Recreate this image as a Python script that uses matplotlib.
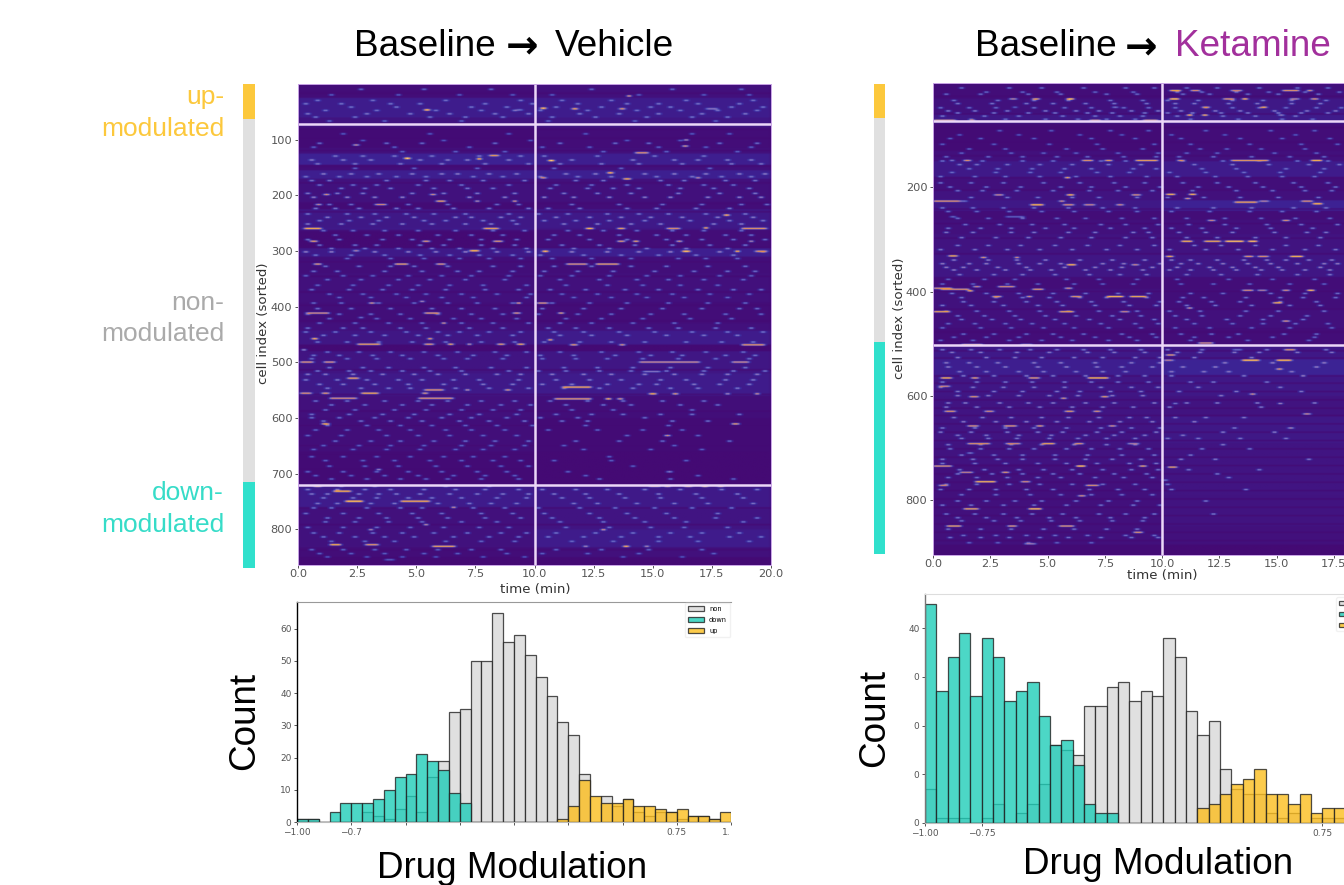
import numpy as np
import matplotlib
matplotlib.use("Agg")
import matplotlib.pyplot as plt
from matplotlib.colors import LinearSegmentedColormap
from matplotlib.patches import Rectangle

W, H = 1344, 885
SANS = ['Liberation Sans', 'DejaVu Sans']

# ---------- histogram data ----------
v_non = [1,1,0,0,0,0,3,2,1,4,8,3,14,19,34,35,50,50,65,56,58,52,45,39,31,27,15,0,8,5,7,3,2,3,3,1,2,2,1,0]
v_down = [1,1,0,3,6,6,6,7,10,14,15,21,19,16,9,6,0,0,0,0,0,0,0,0,0,0,0,0,0,0,0,0,0,0,0,0,0,0,0,0]
v_up = [0,0,0,0,0,0,0,0,0,0,0,0,0,0,0,0,0,0,0,0,0,0,0,0,1,5,13,8,6,6,7,5,5,4,3,4,2,2,1,3]
k_non = [7,1,1,1,0,1,4,0,2,4,8,16,15,14,24,24,28,29,25,27,26,38,34,23,18,21,11,7,6,6,2,1,2,0,1,1,1]
k_down = [45,27,34,39,26,38,34,25,27,29,22,16,17,12,4,2,2,0,0,0,0,0,0,0,0,0,0,0,0,0,0,0,0,0,0,0,0]
k_up = [0,0,0,0,0,0,0,0,0,0,0,0,0,0,0,0,0,0,0,0,0,0,0,0,3,4,6,8,9,11,6,6,4,6,2,3,3]

# ---------- heatmap data: (first cell, level before t=10, level after t=10) ----------
v_bands = [(0,.02,.04),(25,.12,.12),(60,.06,.08),(78,.01,.02),(115,.04,.04),(125,.15,.13),(145,.02,.04),
           (155,.13,.14),(170,.05,.04),(215,.01,.02),(225,.09,.1),(258,.1,.08),(265,.0,.02),(295,.1,.13),
           (310,.03,.03),(340,.04,.04),(392,.03,.02),(430,.04,.04),(443,.08,.11),(468,.0,.0),(480,.07,.08),
           (520,.1,.11),(560,.04,.03),(600,.03,.01),(660,.01,.0),(722,.11,.1),(760,.04,.07),(800,.05,.11),
           (832,.02,.04),(850,.0,.0)]
k_bands = [(0,.02,.04),(30,.05,.09),(60,.09,.11),(78,.01,.02),(130,.04,.04),(150,.1,.11),(180,.04,.03),
           (205,.06,.04),(225,.09,.15),(245,.02,.02),(262,.04,.04),(290,.06,.06),(330,.08,.08),(375,.02,.02),
           (395,.05,.03),(435,.04,.04),(470,.02,.02),(503,.1,.09),(530,.13,.16),(560,.08,.09),(600,.07,.06),
           (640,.07,.09),(690,.06,.07),(730,.04,.07),(790,.04,.06),(850,.04,.04),(885,.01,.0)]
v_dark = [15,80,96,118,146,176,212,228,262,292,318,344,372,396,424,470,476,512,556,586,612,648,664,690,712,760,790,835,852]
k_dark = [24,58,84,112,138,180,204,240,268,296,326,372,398,432,476,512,526,560,574,590,606,622,636,652,668,684,700,716,
          732,748,764,780,796,812,828,844,860,876]

# strong transients: (cell, t start, t end, level)
v_hot = [(132,4.55,4.75,.95),(133,7.65,7.8,.97),(127,8.1,8.5,.74),(258,.3,1.05,.8),(209,5.9,6.3,.75),(209,7.5,7.7,.74),
 (209,9.15,9.3,.85),(197,5.6,5.9,.7),(197,1.1,1.4,.72),(258,7.9,8.5,.76),(281,.5,.9,.75),(281,5.3,5.6,.72),(281,8.3,8.7,.72),
 (322,.7,1.05,.72),(322,4.15,4.7,.74),(322,5.85,6.3,.7),(298,2.4,2.6,.6),(298,7.3,7.7,.85),(392,3,3.3,.72),(389,5.2,5.4,.72),
 (392,9.3,9.45,.9),(410,.35,1.4,.68),(410,5.4,6,.72),(410,9.1,9.45,.7),(428,6.1,6.3,.85),(418,2.6,2.8,.55),(45,5.4,5.6,.9),
 (45,9.3,9.5,.45),(108,2.35,2.6,.68),(215,3.3,3.8,.68),(215,.8,1.05,.66),
 (456,.65,.85,.85),(456,5.5,5.65,.9),(466,2.5,3.5,.75),(466,5.4,5.8,.72),(466,6.4,6.6,.8),(466,7.2,7.35,.75),(466,8.45,8.8,.74),
 (466,9.3,9.6,.78),(476,.2,.4,.7),(498,.15,.7,.7),(498,1.1,1.6,.68),(527,2.1,2.6,.74),(554,.15,.6,.7),(554,1.05,1.35,.72),
 (554,2.7,3.45,.78),(554,5.3,5.5,.72),(548,5.4,6.2,.7),(548,7.1,7.25,.75),(548,8.8,9,.72),(563,1.4,2.55,.68),(563,5.15,6.65,.7),
 (609,1.05,1.4,.8),(691,3.4,3.55,.7),(721,.7,1,.78),(721,1.75,1.95,.7),(721,3.2,3.4,.72),(721,6.2,6.35,.7),(721,8.05,8.2,.66),
 (730,1.55,2.3,.8),(748,2.05,2.75,.88),(748,4.4,5.6,.78),(759,6.5,6.65,.8),(790,5.35,5.55,.78),(799,3.05,3.2,.75),(826,1.4,1.85,.8),
 (826,2.9,3.45,.72),(829,5.7,6.7,.76),(853,3.7,4.15,.38),
 (136,10.65,10.9,.95),(20,13.95,14.1,.88),(42,10.3,10.55,.9),(43,11.6,11.85,.8),(43,17.3,17.8,.5),(43,13.6,13.9,.74),(99,16.35,16.55,.75),
 (110,16.3,16.5,.72),(169,13.75,14.15,.8),(158,13.1,13.4,.85),(167,16.85,17.05,.75),(167,10.3,10.55,.7),(122,14.3,14.85,.7),
 (234,18,18.3,.86),(258,12.2,12.5,.84),(257,17.2,17.3,.97),(258,13.5,13.85,.76),(258,15.6,16.2,.7),(258,18.8,19.85,.72),(281,13.5,13.9,.72),
 (281,14.2,14.45,.8),(281,16,16.3,.7),(281,19.1,19.3,.74),(299,10.4,10.6,.9),(299,16.3,16.65,.9),(299,18.55,18.7,.97),(299,19.4,19.85,.72),
 (322,11.35,12.3,.7),(322,12.6,13.6,.74),(392,10.15,10.65,.7),(410,11,11.25,.76),(458,10.65,10.8,.9),(467,11.55,11.9,.72),(467,13.6,13.9,.72),
 (467,18.8,19.75,.72),(498,14.45,17,.64),(498,18.4,19.1,.64),(515,14.6,15.4,.48),(543,11.2,12.45,.76),(555,14.9,15.2,.8),(555,15.9,16.1,.74),
 (555,18.1,18.25,.7),(555,19.4,19.55,.82),(564,10.9,12.45,.72),(564,13.05,13.25,.84),(564,13.55,13.8,.72),(609,18.4,18.7,.74),(630,15.5,15.8,.7),
 (721,14.9,15.4,.66),(721,15.5,15.8,.8),(721,16.4,16.7,.8),(721,17.1,17.4,.95),(721,17.8,18,.8),(799,12.85,13,.8),(829,12.1,12.3,.68),
 (829,13.8,14,.85),(829,14.7,14.9,.7)]
k_hot = [(29,5.9,6.2,.9),(29,4.4,4.7,.76),(29,3.4,3.7,.62),(45,3.5,3.7,.5),(45,7.9,8.1,.5),(70,0,1,.72),(70,1.6,1.9,.7),(70,6.9,7.4,.7),(70,9.2,9.9,.72),
 (147,1.4,1.7,.72),(147,6.5,7,.72),(147,7.5,7.9,.76),(147,8.9,9.9,.76),(147,.8,.95,.6),(180,5.8,6,.8),(213,2.7,3.1,.66),(213,5.9,6.2,.85),(213,8.7,9.1,.7),
 (225,0,1.4,.72),(225,1.2,1.5,.45),(232,4.3,4.9,.85),(232,5.7,6.2,.7),(232,6.6,7.1,.66),(232,8,8.4,.68),(225,5.5,5.8,.7),(255,.8,1,.45),(255,3.2,4,.4),
 (330,.7,1.1,.8),(333,2.1,2.4,.74),(333,3.6,3.8,.85),(347,5.9,6.3,.85),(347,8.7,9,.66),(389,1.8,2.1,.66),(392,5.8,6.1,.68),(392,0,.9,.7),(394,.4,1.6,.72),
 (389,2.9,3.6,.7),(394,4.4,4.9,.74),(408,4.1,4.4,.72),(408,6,6.5,.72),(408,7.6,8.4,.85),(408,8.6,9.4,.8),(397,1.5,1.8,.85),(408,2.6,3,.72),(437,0,.8,.78),(437,5.5,6.2,.76),
 (437,8.2,8.6,.66),(500,1.3,2.2,.72),(500,3.9,4.4,.6),(564,.4,.9,.8),(564,6.8,7.7,.82),(564,1.7,2,.74),(564,4.2,4.7,.72),(580,.3,.8,.66),(600,1.6,2,.72),
 (600,7.4,7.7,.75),(603,5.6,5.9,.74),(628,.5,1,.72),(628,2.3,2.7,.68),(628,5.8,6.2,.74),(628,7,7.4,.72),(656,1.5,2,.7),(656,3.1,3.7,.72),(656,4.5,4.9,.74),(656,7.7,8,.68),
 (690,1.5,2.5,.72),(690,3.2,3.9,.68),(690,4.8,5.4,.78),(690,6.2,6.6,.72),(690,8.5,9,.58),(708,1.5,1.8,.5),(733,0,.9,.72),(733,6.3,6.7,.9),(733,9,9.4,.76),
 (745,1.2,1.8,.65),(745,3,3.4,.74),(763,1.9,2.8,.85),(763,3.9,4.3,.7),(770,.3,.7,.68),(770,6.7,7.3,.72),(790,6.4,6.7,.7),(815,1.4,2,.78),(815,4.2,4.8,.88),
 (848,.6,1.3,.76),(848,3.3,3.7,.72),(848,5.5,6.2,.72),(860,8.8,9.2,.72),(882,4,4.5,.55),
 (13,10.4,10.9,.8),(13,11.3,11.7,.7),(13,13,13.5,.66),(13,15.3,16,.72),(13,16.4,16.6,.72),(29,10.4,10.8,.9),(29,12.7,13.2,.72),(29,13.5,13.8,.88),(29,15.6,16,.6),(29,16.5,16.9,.72),
 (45,11.8,12.1,.74),(45,14.4,14.6,.85),(60,11.1,11.4,.85),(60,11.8,12,.85),(60,15.1,15.4,.55),(147,13,13.4,.68),(147,16.5,17,.84),(147,13.1,14.7,.74),(147,10.7,11,.72),
 (212,10.2,10.6,.85),(212,11.2,11.5,.85),(227,13.2,14.2,.76),(225,14.3,14.7,.6),(230,16.6,17,.85),(262,12,12.4,.66),(262,15.3,15.6,.72),(220,11,11.3,.72),
 (302,10.9,11.4,.84),(302,11.9,12.6,.8),(302,12.8,13.6,.9),(302,13.8,14.2,.9),(225,16.1,16.6,.7),(331,10.2,10.5,.8),(331,13.6,14,.72),(331,14.2,14.7,.7),(331,15.6,16.2,.84),
 (396,13.5,14,.7),(396,15.3,15.6,.7),(396,16.4,16.7,.88),(396,14.2,14.6,.6),(420,14.9,15.3,.8),(430,11.1,11.4,.7),(455,15.3,15.6,.7),(520,10.2,10.6,.72),(497,11.6,12.3,.7),
 (530,10.1,10.5,.62),(530,13.5,14.3,.88),(530,15,15.7,.86),(510,13.1,13.5,.45),(510,15.4,15.9,.74),(547,15,15.3,.74),(560,16.1,16.3,.7),(595,13.9,14.1,.7),
 (613,10.5,10.7,.58),(613,15.1,15.2,.7),(633,16.2,16.5,.66),(660,15.5,15.8,.6),(735,10.3,10.7,.76),(760,10,10.3,.48)]

# faint transients: (cell, level, times)
v_spk = [
 (8,.46,[2.6,5.3,8.1,12.4,15.8,18.7]),(28,.48,[.8,3.1,6.2,9.4,11.1,13.2,16.4,19.2]),(40,.5,[2.2,4.1,7.3,8.8,10.9,12.8,14.9,15.7,18.3,19.6]),
 (52,.52,[.4,2.9,4.7,6.4,8.3,9.7,11.9,13.5,15.2,17,18.9]),(65,.44,[1.3,3.6,6.9,10.5,14.2,17.6]),(88,.42,[1.9,5.5,8.9,12.1,16.6,18.2]),
 (105,.5,[.9,3.7,5.2,8.3,11,13.4,14.8,17.8,19.4]),(120,.44,[4.4,6.6,8.7,12.9,15.5,18.5]),(135,.54,[.5,1.9,3,5.1,6.3,7.1,8.9,11.5,14.1,15.9,16.9,18.1,19.1]),
 (150,.46,[2.4,4.9,7.5,10.8,13.6,17.4]),(160,.55,[1,2.2,3.4,4.8,6,6.7,8,9.2,11.3,12.5,14.6,15.9,17.2,18.6,19.7]),
 (172,.52,[.5,1.3,3.7,5.4,6.4,7.8,9.5,11.7,12.9,15.3,16.3,18,19.3]),(186,.52,[1.8,2.8,3.9,5.7,7.1,8.2,10.6,12.2,13.3,14.4,16.1,17.5,19]),
 (202,.6,[.6,2,3.2,4.4,7.2,8.7,10.4,11.6,13.1,14.6,15.7,17.3,18.6,19.5]),(222,.54,[.7,1.5,2.5,4.1,5,6.5,8,9.7,10.5,11.9,13.9,15.1,16.8,18.2]),
 (238,.56,[1.2,2.6,3.7,4.9,6.6,7.3,8.5,9.4,10.9,12.3,13.6,14.9,16.2,17.7,19.2]),(250,.56,[.4,1.8,3.1,4.4,5.6,7,8.1,9.2,11.2,12.6,14,15.3,17.5,18.7]),
 (270,.5,[1.5,2.9,4.2,5.9,7.3,8.6,10.8,11.9,13.5,15.1,16.4,18,19.1]),(288,.52,[.9,2.4,3.3,5.1,6.1,7.7,9.1,11.1,12.7,14.2,15.8,17.4,18.9]),
 (300,.58,[.3,1.4,3.2,4.6,5.8,7,8.4,9.7,11.5,13,14.4,15.7,17.8,19.6]),(312,.46,[2,3.9,5.3,6.8,8,9.4,10.7,12.4,14,16,17.2,18.5]),
 (335,.5,[.6,1.6,3.6,5.2,6.7,7.6,9,10.4,11.8,13.3,15,16.7,18.1,19.3]),(350,.48,[1.2,2.6,4.2,5.5,7,8.7,11,12.7,14.3,15.6,17.1,18.8]),
 (368,.5,[.5,2.1,3.5,4.8,6.2,7.9,9.3,10.6,12.1,13.8,15.2,16.9,18.4,19.5]),(382,.46,[1.7,3,4.5,6,7.4,9.6,11.6,13.2,14.7,16.3,18.1]),
 (402,.5,[.8,2.2,3.9,5.6,6.9,8.3,10.3,12,13.6,15.4,17,18.6,19.4]),(420,.46,[1.3,3.3,4.7,6.5,7.7,9.2,11.3,12.8,14.5,16.5,18.3]),
 (437,.52,[.4,1.9,2.7,4.3,5.4,7.2,8.6,10.5,11.7,13.1,14.8,16,17.6,19.1]),(450,.52,[1,2.4,3.6,5,6.3,7.5,9,11,12.4,13.9,15.5,17.1,18.5]),
 (486,.5,[.6,1.7,3.1,4.4,5.9,7.4,8.8,10.2,11.6,13.4,14.9,16.2,18,19.3]),(508,.5,[1.3,2.7,3.8,5.3,6.6,8.1,9.6,11.2,12.6,14.1,15.7,17.3,18.9]),
 (520,.56,[.4,1.1,2.3,3.5,4.9,5.9,7,8.4,9.4,10.7,12,13.2,14.6,15.9,17,18.1,19.4]),(538,.54,[.9,1.9,3.2,4.6,6.1,7.8,9,10.3,11.5,13,14.4,15.1,16.7,17.8,19]),
 (575,.5,[1.4,2.8,4.4,5.6,7.1,8.5,9.8,11.3,12.9,14,16.1,17.7]),(592,.5,[.5,2.1,3.5,4.9,6.4,7.6,9.2,10.9,12.4,13.7,15.3,16.6,18.6]),
 (604,.52,[1,2.6,3.9,5.2,6.8,8,9.5,11.1,12.2,15.8,17.3]),(620,.46,[.7,2,3.4,4.7,6.2,7.3,8.7,10.5,12.6,14.5,16.2]),
 (640,.48,[1.5,3,4.3,5.7,7,8.3,9.7,11.7,13.5,15.4,18.2]),(655,.44,[.6,2.3,3.7,5.1,6.6,7.8,9.1,12,14.9,17]),
 (675,.44,[1.1,2.7,4,5.5,6.9,8.2,9.4,10.8,13.2,16.4]),(695,.46,[.4,1.9,3.3,4.6,6,7.5,8.8,11.4,15.6,15.7]),(708,.46,[1.4,2.9,4.3,5.4,6.3,7.7,9.3,12.7,15.7,18.4]),
 (735,.54,[.5,1.2,2.5,3.4,4.1,5.1,6.4,7.5,8.6,9.7,10.8,12.1,13.5,15.2,16.8,18.5]),(752,.52,[.8,1.6,3,4,5.9,7.2,8.1,9.2,11.6,12.6,14.3,15.9,17.3,19.2]),
 (770,.5,[.3,1.9,3.4,4.8,6,7.7,9,10.4,12.3,13.9,15.5,17.7]),(785,.48,[1.1,2.4,3.8,5.2,6.9,8.4,11,12.9,14.6,16.4,18.8]),
 (805,.5,[.6,1.7,3.1,4.4,5.7,7.1,8.5,9.6,10.9,12.5,14.1,15.7,17,18.6]),(820,.46,[1.4,2.8,4,6.2,7.7,9.1,11.5,13.3,15.2,16.9,19]),
 (842,.44,[.9,2.2,3.6,5.3,6.7,8.8,10.3,12.2,14.4,17.5]),
 (18,.42,[1.4,4.2,6.8,9,10.7,14.4,17.1,19]),(34,.5,[.3,1.8,3.9,5.1,7.9,9.9,11.8,13.9,15.2,16.9,18.6]),(46,.48,[1.1,3.3,5.8,7.7,9.1,10.2,12.2,14.3,16.1,17.7,19.4]),
 (58,.5,[.7,2.4,5.5,7,8.6,10.7,12.5,14.7,16.6,18.1]),(100,.4,[2.7,6.1,9.8,13.9,16.1]),(112,.44,[.6,4,7.2,10.3,12.3,15.2,17.2,19.1]),(128,.5,[1.5,2.7,4,5.6,7.6,9.4,10.4,12.6,15,17.1]),
 (142,.52,[.8,2.4,4.3,6,7.9,9.7,11,12.8,14.4,16.2,18.3,19.5]),(165,.5,[.3,1.7,2.9,4.1,5.4,7.4,8.6,10.2,11.8,13.2,15.1,16.6,17.9,19.1]),
 (180,.5,[.9,2.3,3.3,5,6.9,8.9,10.9,12.4,13.9,15.6,17.1,18.4]),(195,.55,[.4,1.6,2.7,4.8,6.1,7.5,9.1,11.2,12.6,14,16,17.8,19.3]),
 (215,.5,[1.3,2.2,4.6,6.3,8.4,9.3,11.5,13.5,15.4,17,18.7,19.8]),(232,.52,[.4,2,3.2,4.5,5.7,7,8.9,10.1,11.4,13,14.4,15.6,17.2,18.9]),
 (244,.52,[.9,2.1,3.4,5.3,6.2,7.8,9,10.4,11.7,13.1,14.6,16.5,18.2,19.6]),(262,.48,[1,2.3,3.6,5,6.6,8.2,9.5,11.4,12.9,14.3,15.8,17.1,18.7]),
 (278,.5,[.4,1.7,3.5,4.8,6.4,7.7,9.2,10.5,12.3,13.9,15.5,17,18.4,19.7]),(294,.52,[1.4,2.8,4.2,5.6,6.8,8.2,9.6,11.6,13.1,14.7,16.4,18.1]),
 (306,.5,[.7,2.2,3.6,5.1,6.4,7.6,9,10.2,12,13.6,15.2,16.8,18.4]),(326,.5,[1.1,2.5,3.9,4.9,6.3,8.2,9.4,10.8,12.4,14,15.5,17.3,18.9]),
 (343,.46,[.3,1.9,3.1,4.6,6,7.3,8.9,10.2,11.5,13.1,14.7,16.1,17.8,19.1]),(360,.46,[.8,2.3,3.8,5,6.4,7.8,9.6,11.3,13,14.5,16.1,17.7]),
 (376,.46,[1.3,2.7,4.1,5.4,6.9,8.4,9.8,11.1,12.6,14.3,15.8,17.4,19]),(392,.48,[.6,1.8,3.4,4.9,6.3,7.5,9,10.7,12.3,13.9,15.6,17.3,18.9]),
 (412,.48,[.4,1.7,3,4.3,5.9,7.3,8.6,10.1,11.8,13.2,14.9,16.3,18,19.5]),(428,.48,[.9,2.4,3.8,5.2,6.9,8.2,9.7,11,12.4,14.1,15.9,17.7]),
 (444,.5,[.3,1.5,3,4.5,5.9,6.8,8,9.4,10.8,12,13.5,15,16.6,18.1,19.6]),(462,.5,[.8,2,3.4,4.8,6.2,7.7,9.1,10.4,11.9,13.2,14.6,16.4,17.9,19.2]),
 (480,.48,[1.2,2.5,3.9,5.3,6.7,8.3,9.6,11,12.8,14.4,15.8,17.2,18.8]),(492,.48,[.5,2,3.3,4.7,6.1,7.1,8.6,10.3,11.7,13,14.5,16,17.6,19]),
 (514,.52,[.8,2.1,3,4.4,5.5,6.9,8.9,10.1,11.3,12.7,14,15.5,17.1,18.4,19.7]),(530,.54,[.3,1.6,2.9,4.2,5.2,6.5,7.6,9.3,10.9,12.3,13.6,15.3,16.4,18,19.2]),
 (545,.52,[1.2,2.6,3.8,4.7,6.6,8,9.7,11.2,12.7,14.1,15.7,16.9,18.5]),(568,.5,[.7,2,3.6,5,6.3,7.7,9.1,10.6,12.2,13.7,15.4,17.1]),
 (584,.48,[1.1,2.4,4,5.4,6.9,8.2,9.4,11.5,13.3,16.6]),(598,.5,[.5,1.7,3.2,4.6,6,7.3,8.8,10.2,11.8,14.6]),(612,.46,[1.2,2.9,4.3,5.6,7,8.4,9.9,12.1,15.6]),
 (630,.46,[.4,1.8,3.7,5,6.4,7.8,9.2,13.9,16.9]),(648,.44,[1,2.5,3.9,5.3,6.9,8.1,9.5,11.2,15.9]),(668,.44,[.5,1.9,3.3,4.7,6.1,7.4,8.7,13.1]),
 (685,.44,[1.3,2.8,4.2,5.8,7.1,8.5,9.7,14.1]),(702,.44,[.7,2.2,3.6,5,6.5,7.9,9.1,12.1,16.9]),(727,.54,[.4,1.6,2.8,3.9,5.3,6.6,7.9,9.3,10.3,11.7,13,14.6,16.1,17.9,19.4]),
 (742,.52,[1,2.3,3.3,4.6,5.6,6.9,8.4,9.6,11.1,12.3,13.8,15.3,17,18.8]),(760,.5,[.6,1.4,2.9,4.3,5.2,7.4,8.7,10.1,11.9,13.4,15,16.6,18.3]),
 (778,.5,[1.2,2.5,3.7,5,6.3,7.9,9.4,10.7,12.7,14.2,15.9,17.6,19.4]),(795,.48,[.4,1.9,3.3,4.7,6.1,7.6,8.9,11.3,13.1,14.9,16.3,18.1]),
 (812,.5,[1,2.4,3.6,4.9,6.5,8,9.3,10.5,12,13.6,15.2,16.5,18.2,19.5]),(835,.46,[.5,1.9,3.2,4.5,5.9,7.3,8.5,10.9,12.8,14.8,17]),(848,.4,[1.2,2.9,4.4,5.8,7.8,9.5,13.7,16.2]),]
k_spk = [
 (8,.5,[1.2,3.3,4.7,6.5,8.4,9.6,11,12.4,14.2,15.9,17.2]),(20,.5,[.5,2,4.1,5.5,7.5,8.9,10.9,12,13.7,15,16.8]),(38,.54,[1,2.5,4,5.2,6.6,7.9,9.3,10.5,11.4,12.9,14.1,15.6,16.9]),
 (52,.56,[.6,1.8,3.2,4.9,6.2,7.2,8.6,9.8,10.8,12.3,13.4,14.9,16.3,17.5]),(62,.52,[.4,2.2,3.7,5.6,7,8.1,9.1,10.6,12.6,14,15.8]),
 (90,.44,[2.9,5.1,7.7,9.4,11.9,14.7,16.6]),(105,.44,[.7,2,4.4,6.9,8.8,10.8,13.4,15.2,17.3]),(125,.46,[1.5,3.1,5.8,7.4,9.1,11.6,12.8,14.3,16.2]),
 (140,.5,[.5,2.4,3.9,5.4,6.7,8.3,9.7,10.7,12.2,13.9,15.5,17]),(155,.52,[1.1,1.9,3.2,4.6,6,7.6,9,11.4,13,14.6,16.4,17.7]),(170,.48,[.8,2.7,4.2,5.5,7.1,8.5,10.3,11.9,13.5,15.1,16.9]),
 (190,.52,[.3,1.6,3,4.8,6.4,7.9,9.2,10.9,12.4,14,15.7,17.2]),(205,.52,[1,2.1,3.6,5.2,6.8,8,9.5,11.3,13.2,14.8,16.2,17.4]),
 (245,.48,[.6,1.9,3.3,4.7,6.1,7.6,8.9,10.4,12,13.8,15.2,16.7]),(270,.52,[1.4,2.9,4.3,5.7,7.3,8.4,9.8,11.1,12.7,14.5,16,17.6]),
 (285,.56,[.5,1.7,3.4,4.4,5.9,7,8.7,9.4,10.7,11.9,13,14.9,16.3,17.1]),(310,.54,[1,2.4,3.8,5.3,6.7,8.1,9.6,11.4,12.5,14,15.4,16.8]),
 (345,.6,[.4,1.5,2.3,3.7,4.6,5.5,7.4,8.3,9.9,10.8,11.5,12.6,13.7,14.7,15.9,17,17.6]),(357,.6,[.9,1.9,3.1,4.2,5.1,6.6,7.7,9.1,10.3,11.2,12.2,13.2,14.3,15.2,16.2,17.3]),
 (375,.46,[.6,2.2,3.5,5.8,7.2,8.9,10.6,12.9,14.8,16.6]),(410,.52,[1.2,2.7,3.9,5,6.4,7.5,9.3,10.9,11.8,13.6,15.1,16.1,17.5]),
 (425,.54,[.4,1.6,3,4.5,5.6,7,8.5,9.7,11,12.3,13.9,15.5,16.9]),(445,.52,[1,2.2,3.5,4.9,6.2,7.8,9,10.5,11.7,13.4,14.7,16.3]),
 (460,.5,[.6,1.8,3.1,4.3,5.7,7.3,8.8,9.8,11.4,13,14.4,15.8,17.2]),(480,.5,[1.3,2.6,4,5.2,6.5,8.2,9.5,10.8,12.1,13.3,15.3,16.7]),
 (492,.46,[.3,1.7,3.3,4.7,6,7.6,8.9,11.2,13.7,16.4]),(515,.56,[.8,2,3.6,5,6.7,7.9,9.2,10.6,11.6,13.1,14.2,15.9,17.4]),(535,.56,[.5,1.5,2.8,4.4,5.5,7,8.6,9.9,12.7,14.8,17]),
 (552,.54,[1.1,2.3,3.7,4.8,6.2,7.4,8.4,10.4,11.8,12.9,15.6]),(572,.54,[.4,1.9,3.1,4.3,5.7,6.9,8,9.4,11.2,12.2,14.5]),(590,.56,[1,2.6,3.9,5.4,6.4,7.7,9,10.7,13.2,16]),
 (612,.58,[.6,1.4,2.9,4.1,5.2,6.6,7.9,9.6,11,12.4,14.1,16.6]),(640,.56,[.9,2.1,3.4,4.7,5.9,7.2,8.5,9.3,10.5,11.9,13.5]),(668,.58,[.3,1.6,3.2,4.5,5.6,7.1,8.2,9.7,12.6,14.9]),
 (680,.54,[1.2,2.4,3.6,5,6.3,7.5,8.8,10.2,11.5,13.4,15.4]),(700,.54,[.7,2,3.3,4.4,5.8,6.9,8.1,9.4,11.7,13.8]),(720,.56,[.4,1.7,2.8,3.9,5.3,6.6,7.8,9,10.8,12.3,16.4]),
 (740,.54,[1.1,2.2,3.7,4.8,6,7.4,8.6,9.8,11.1,14.2]),(755,.52,[.6,1.9,3.2,4.5,5.5,7,8.3,9.5,12.9]),(778,.54,[.3,1.5,2.7,4,5.2,6.8,8,9.2,10.4,13.6]),
 (800,.54,[1,2.3,3.5,4.7,6.2,7.6,8.9,11.9]),(825,.54,[.5,1.8,3,4.3,5.6,7.2,8.4,9.6,12.2]),(838,.52,[1.2,2.6,3.8,5.1,6.4,7.8,9.1]),(870,.52,[.7,2,3.3,4.6,5.9,7.3,8.6,9.8]),(880,.46,[1.5,2.8,4.1,5.4,6.9]),
 (16,.48,[2.3,3.9,5.4,7,8.7,10.6,11.7,13.2,14.6,16.2,17.7]),(32,.5,[.9,2.8,4.4,5.9,7.7,9.1,10.2,11.5,13,14.4,15.6,17.1]),(46,.5,[.3,1.5,2.7,4.4,5.7,6.9,8.3,9.4,10.5,11.9,13,14.2,15.4,16.7,17.8]),
 (56,.55,[1,2.6,4.1,5.3,6.7,7.8,9.2,10.2,11.3,12.5,13.7,15,16,17.2]),(68,.48,[1.6,3.1,4.9,6.3,7.5,8.8,11.2,13.3,15.2,16.5]),(98,.42,[1.1,3.7,6.4,8.2,10.4,12.7,15.8]),
 (116,.44,[.4,2.6,5,7.1,9.6,11.2,13.8,16,17.6]),(133,.46,[1.2,3.4,4.8,6.2,8,9.8,11,12.4,14.9,16.7]),(148,.5,[.4,2.1,3.9,5.2,7.3,8.4,10.9,12.6,14.2,15.9,17.2]),
 (163,.5,[1.5,2.8,4.3,5.7,6.9,8.7,9.7,11.7,13.2,15.4,17]),(178,.5,[.3,1.8,3.1,4.6,6.2,7.7,9.3,10.6,12.3,13.7,15.2,16.6]),(198,.52,[.7,2.3,3.8,5.5,6.9,8.4,9.9,11.5,12.9,14.4,16,17.5]),
 (218,.52,[1.6,3.2,4.5,6,7.2,8.9,10.2,11.8,13.4,15,16.8]),(238,.52,[.4,1.7,3,4.4,5.9,7.4,8.8,10.6,12.2,13.9,15.7,17.1]),(258,.5,[1,2.4,3.9,5.4,6.6,8.2,9.6,11,12.7,14.3,15.8,17.3]),
 (277,.54,[.6,2,3.4,4.9,6.1,7.7,9.2,10.4,11.7,13.2,14.7,16.5]),(295,.56,[1.2,2.7,4.1,5.5,6.9,8.4,9.5,11,12.4,14,15.4,16.9]),(318,.56,[.3,1.8,3.2,4.6,6,7.5,8.9,10.3,11.9,13.3,14.8,16.2,17.5]),
 (338,.58,[.9,2.4,3.6,4.9,6.4,7.8,9.2,10.4,11.2,12.4,13.5,14.5,15.4,16.4,17.4]),(352,.6,[.5,1.3,2.8,4,5.7,7,8.2,9.5,10.6,12,13,14,15,16.9]),(366,.55,[1.1,2.6,3.9,5.3,6.8,8.1,9.3,11,12.5,14.1,15.9,17.3]),
 (384,.46,[.4,1.7,3.2,4.5,6.1,7.4,8.7,10.8,12.2,13.8,15.5,17]),(402,.5,[.8,2.3,3.7,5.2,6.6,8,9.4,11.2,12.6,14.7,16.2,17.6]),(418,.54,[1.3,2.6,4,5.4,6.9,8.3,9.9,10.7,12.1,13.4,15.1,16.7]),
 (436,.52,[.5,1.9,3.3,4.6,5.9,7.2,8.9,10.3,11.6,13.6,15,17]),(452,.52,[1.2,2.5,3.8,5.3,6.8,8.1,9.6,11,12.8,14.4,16.1]),(468,.48,[.4,2,3.4,4.8,6.1,7.6,9,10.5,12,13.9,15.5,17.4]),
 (486,.48,[.9,2.3,3.7,5.5,7,8.5,9.7,11.4,12.9,14.8,16.6]),(510,.55,[.4,1.6,2.9,4.2,5.4,6.5,7.7,9,10.2,11.7,14.5,17.1]),(525,.58,[1,2.3,3.5,4.7,6.1,7.4,8.8,9.9,11.4,13.9]),
 (543,.56,[.6,1.9,3.1,4.5,5.8,7.1,8.2,9.5,10.9,12.3,16.7]),(560,.56,[1.3,2.6,4,5.2,6.6,8,9.2,10.4,13.5]),(582,.56,[.3,1.7,3,4.4,5.7,7.3,8.6,9.8,11.5,15.1]),
 (598,.58,[1,2.4,3.7,5,6.3,7.8,9.1,12.5]),(620,.58,[.5,1.9,3.3,4.6,6,7.4,8.7,10.3,14.3]),(648,.58,[1.3,2.7,4,5.4,6.8,8.1,9.5,11.4]),(660,.54,[.4,1.8,3.1,4.4,5.8,7.3,8.6,9.9,13.1]),
 (674,.56,[1,2.3,3.7,5.1,6.6,7.9,9.2,10.9]),(692,.56,[.6,2,3.4,4.7,6.1,7.5,8.8,12.6]),(712,.54,[1.2,2.6,3.9,5.3,6.7,8.2,9.6,11.2]),(728,.54,[.4,1.8,3.1,4.5,5.8,7.1,8.5,9.7]),
 (748,.54,[1,2.5,3.9,5.2,6.4,7.9,9.3,12.4]),(768,.52,[.5,1.9,3.3,4.6,6,7.4,8.8,10.2]),(788,.52,[1.2,2.7,4.2,5.5,6.9,8.2,9.5]),(808,.54,[.4,1.6,3,4.4,5.8,7.3,8.7,9.9]),
 (832,.54,[1,2.3,3.6,5,6.2,7.7,9.2]),(854,.54,[.6,2,3.4,4.8,6.1,7.5,8.9]),(866,.5,[1.3,2.7,4,5.3,6.7,8.4,9.6]),]

# ---------- helpers ----------
lv = ['#440a74', '#3b2a9e', '#5a62c4', '#a878b8', '#ee8a3c', '#ffc63c', '#fff6c0']
cmap = LinearSegmentedColormap.from_list('ca', list(zip([0, .2, .38, .55, .72, .86, 1], lv)))
KERNEL = [.25, .5, .25]

def axpx(fig, x0, y0, x1, y1):
    return fig.add_axes([x0 / W, 1 - y1 / H, (x1 - x0) / W, (y1 - y0) / H])

def build(n, bands, dark, hot, spk):
    M = np.zeros((n, 240))
    starts = [b[0] for b in bands] + [n]
    for i, b in enumerate(bands):
        M[starts[i]:starts[i + 1], :120] = b[1]
        M[starts[i]:starts[i + 1], 120:] = b[2]
    for c in dark:
        M[c:c + 3] *= .25
    for c, l, ts in spk:
        for t in ts:
            a = int(t * 12)
            M[c:c + 3, a:a + 2] = l * 1.2
    for c, t0, t1, l in hot:
        a, e = int(t0 * 12), max(int(t1 * 12), int(t0 * 12) + 2)
        M[c:c + 3, a:a + e - a] = l * 1.05
    M = np.apply_along_axis(lambda r: np.convolve(r, KERNEL, 'same'), 1, M)
    M = np.apply_along_axis(lambda r: np.convolve(r, KERNEL, 'same'), 0, M)
    return M

def heat(ax, M, n, hl, xmax, yt):
    ax.imshow(M, extent=[0, 20, n, 0], aspect='auto', cmap=cmap, vmin=0, vmax=1, interpolation='bilinear')
    ax.set_xlim(0, xmax)
    ax.set_ylim(n, 0)
    for y in hl:
        ax.axhline(y, color='#ecd8f8', lw=1.8)
    ax.axvline(10, color='#ecd8f8', lw=1.8)
    m = 8 if xmax < 20 else 9
    ax.set_xticks([0, 2.5, 5, 7.5, 10, 12.5, 15, 17.5, 20][:m])
    ax.set_xticklabels(['0.0', '2.5', '5.0', '7.5', '10.0', '12.5', '15.0', '17.5', '20.0'][:m])
    ax.set_yticks(yt)
    ax.tick_params(labelsize=8.2, length=2.5, width=.7, colors='#555555', pad=1.5)
    ax.tick_params(axis='x', pad=.5)
    for s in ax.spines.values():
        s.set_color('#c9a4e6')
        s.set_linewidth(.7)
    ax.spines['right'].set_visible(xmax >= 20)

def hist(ax, non, down, up, xmax, ymax):
    edges = np.arange(len(non)) * 0.05 - 1
    ax.bar(edges, non, .05, align='edge', color='#d9d9d9', alpha=.8, edgecolor='#222222', lw=.9, label='non')
    ax.bar(edges, down, .05, align='edge', color='#1fcdb8', alpha=.8, edgecolor='#222222', lw=.9, label='down')
    ax.bar(edges, up, .05, align='edge', color='#fcbe1e', alpha=.8, edgecolor='#222222', lw=.9, label='up')
    ax.set_xlim(-1, xmax)
    ax.set_ylim(0, ymax)
    ax.spines['right'].set_visible(False)
    ax.spines['left'].set_linewidth(1)
    ax.spines['top'].set_color('#999999')
    ax.spines['bottom'].set_color('#bbbbbb')
    ax.tick_params(labelsize=6.5, length=2.5, width=.7, colors='#555555', pad=1.5)

LEG = dict(fontsize=4.8, handlelength=2.4, labelspacing=.75, handletextpad=.8, borderpad=.45, framealpha=.8, edgecolor='#eeeeee')

# ---------- figure ----------
fig = plt.figure(figsize=(W / 100, H / 100), dpi=100, facecolor='white')

def tx(x, y, s, **kw):
    kw.setdefault('family', SANS)
    kw.setdefault('fontsize', 26.6)
    kw.setdefault('va', 'center')
    return fig.text(x / W, 1 - y / H, s, **kw)

def box(x0, y0, x1, y1, c):
    fig.add_artist(Rectangle((x0 / W, 1 - y1 / H), (x1 - x0) / W, (y1 - y0) / H,
                             transform=fig.transFigure, color=c, lw=0))

GOLD, GREY, TEAL = '#fcc83c', '#e0e0e0', '#30e0cc'
box(243, 84, 255, 119, GOLD); box(243, 119, 255, 482, GREY); box(243, 482, 255, 568, TEAL)
box(874, 84, 885, 118, GOLD); box(874, 118, 885, 342, GREY); box(874, 342, 885, 554, TEAL)

for y, s, c in [(97, 'up-', '#fcc83c'), (129, 'modulated', '#fcc83c'), (303, 'non-', '#aaaaaa'), (334, 'modulated', '#aaaaaa'),
                (493, 'down-', '#36dcc8'), (525, 'modulated', '#36dcc8')]:
    tx(224, y, s, ha='right', color=c, fontsize=19)

tx(354, 46, 'Baseline', ha='left')
tx(522, 46, '\u2192', ha='center', family='DejaVu Sans', fontsize=28, fontweight='bold')
tx(555, 46, 'Vehicle', ha='left')
tx(975, 47, 'Baseline', ha='left')
tx(1141, 47, '\u2192', ha='center', family='DejaVu Sans', fontsize=28, fontweight='bold')
tx(1175, 47, 'Ketamine', ha='left', color='#a2309c')
tx(245, 721, 'Count', ha='center', rotation=90)
tx(875, 718, 'Count', ha='center', rotation=90)
tx(512, 868, 'Drug Modulation', ha='center')
tx(1158, 864, 'Drug Modulation', ha='center')

a1 = axpx(fig, 298, 84, 771, 565)
heat(a1, build(864, v_bands, v_dark, v_hot, v_spk), 864, [72, 720], 20, list(range(100, 801, 100)))
tx(263, 323, 'cell index (sorted)', family='DejaVu Sans', fontsize=9.6, rotation=90, ha='center', color='#333333')
tx(535, 589, 'time (min)', family='DejaVu Sans', fontsize=9.6, ha='center', color='#333333')

a2 = axpx(fig, 933, 83, 1344, 555)
heat(a2, build(905, k_bands, k_dark, k_hot, k_spk), 905, [72, 503], 411 / 22.9, [200, 400, 600, 800])
tx(899, 318, 'cell index (sorted)', family='DejaVu Sans', fontsize=9.6, rotation=90, ha='center', color='#333333')
tx(1162, 576, 'time (min)', family='DejaVu Sans', fontsize=9.6, ha='center', color='#333333')

h1 = axpx(fig, 297, 602, 731, 822)
hist(h1, v_non, v_down, v_up, 1, 68.3)
h1.set_xticks([-1, -.75, -.5, -.25, 0, .25, .5, .75, 1])
h1.set_xticklabels(['\u22121.00', '\u22120.7', '', '', '', '', '', '0.75', '1.'])
h1.get_xticklabels()[-1].set_ha('right')
h1.set_yticks(range(0, 61, 10))
h1.legend(loc='upper right', borderaxespad=.15, **LEG)

h2 = axpx(fig, 925, 594, 1344, 823)
hist(h2, k_non, k_down, k_up, 419 / 227 - 1, 47)
h2.set_xticks([-1, -.75, .75])
h2.set_xticklabels(['\u22121.00', '\u22120.75', '0.75'])
h2.set_yticks([0, 10, 20, 30, 40])
h2.set_yticklabels(['0', '0', '0', '0', '40'])
h2.spines['top'].set_color('#dddddd')
h2.spines['left'].set_color('#777777')
h2.legend(loc='upper left', bbox_to_anchor=(.982, .985), borderaxespad=0, **LEG)

fig.savefig('out.png', dpi=100)
